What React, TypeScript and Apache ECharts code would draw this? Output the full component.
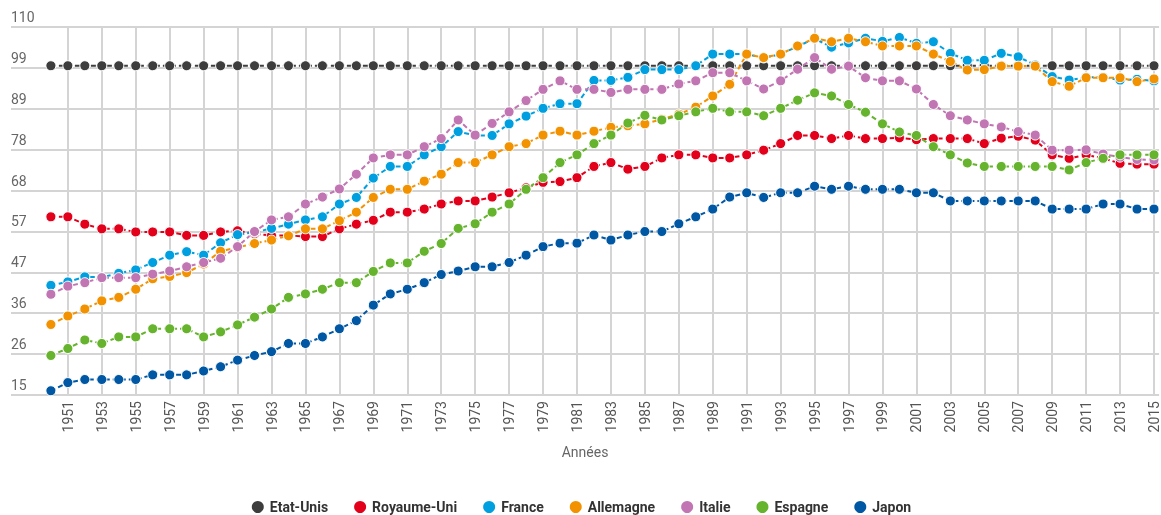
import { useEffect, useRef } from "react";
import * as echarts from "echarts";

const years = [
  1950, 1951, 1952, 1953, 1954, 1955, 1956, 1957, 1958, 1959,
  1960, 1961, 1962, 1963, 1964, 1965, 1966, 1967, 1968, 1969,
  1970, 1971, 1972, 1973, 1974, 1975, 1976, 1977, 1978, 1979,
  1980, 1981, 1982, 1983, 1984, 1985, 1986, 1987, 1988, 1989,
  1990, 1991, 1992, 1993, 1994, 1995, 1996, 1997, 1998, 1999,
  2000, 2001, 2002, 2003, 2004, 2005, 2006, 2007, 2008, 2009,
  2010, 2011, 2012, 2013, 2014, 2015,
];

const xTickYears = [
  1951, 1953, 1955, 1957, 1959, 1961, 1963, 1965, 1967, 1969,
  1971, 1973, 1975, 1977, 1979, 1981, 1983, 1985, 1987, 1989,
  1991, 1993, 1995, 1997, 1999, 2001, 2003, 2005, 2007, 2009,
  2011, 2013, 2015,
];

const yTickValues = [15, 25.556, 36.111, 46.667, 57.222, 67.778, 78.333, 88.889, 99.444, 110];
const yTickLabels = ["15", "26", "36", "47", "57", "68", "78", "89", "99", "110"];

const etatsUnis = [
  100, 100, 100, 100, 100, 100, 100, 100, 100, 100,
  100, 100, 100, 100, 100, 100, 100, 100, 100, 100,
  100, 100, 100, 100, 100, 100, 100, 100, 100, 100,
  100, 100, 100, 100, 100, 100, 100, 100, 100, 100,
  100, 100, 100, 100, 100, 100, 100, 100, 100, 100,
  100, 100, 100, 100, 100, 100, 100, 100, 100, 100,
  100, 100, 100, 100, 100, 100,
];

const royaumeUni = [
  61.0, 61.0, 59.1, 57.9, 57.9, 57.1, 57.1, 57.1, 56.2, 56.2,
  57.1, 57.4, 56.6, 56.2, 56.2, 55.9, 55.9, 57.9, 59.1, 60.1,
  62.2, 62.2, 63.0, 64.3, 65.1, 65.1, 66.1, 67.2, 68.5, 69.9,
  70.1, 71.1, 74.0, 75.0, 73.3, 74.0, 76.2, 77.0, 77.0, 76.2,
  76.2, 77.0, 78.2, 79.9, 82.0, 82.0, 81.2, 82.0, 81.2, 81.2,
  81.4, 80.9, 81.2, 81.2, 81.2, 79.9, 81.3, 81.8, 80.8, 77.0,
  76.1, 77.0, 76.1, 74.8, 74.6, 74.6,
];

const france = [
  43.3, 44.2, 45.5, 45.4, 46.4, 47.3, 49.2, 51.1, 52.0, 51.1,
  54.3, 56.4, 57.0, 58.0, 59.1, 60.2, 61.0, 64.3, 66.0, 71.0,
  74.0, 74.0, 77.0, 79.1, 83.0, 82.0, 82.0, 85.0, 87.0, 89.0,
  90.2, 90.2, 96.2, 96.2, 97.0, 99.0, 99.0, 99.0, 100.0, 103.0,
  103.0, 103.0, 102.0, 103.0, 105.0, 107.0, 104.8, 105.9, 107.1, 106.3,
  107.3, 105.8, 106.2, 103.2, 101.4, 101.4, 103.2, 102.3, 100.2, 97.2,
  96.3, 97.0, 97.0, 96.3, 96.5, 96.1,
];

const allemagne = [
  33.2, 35.4, 37.2, 39.3, 40.2, 42.3, 45.0, 45.6, 46.6, 48.8,
  52.1, 53.1, 54.1, 55.0, 56.1, 57.9, 57.9, 60.0, 62.2, 66.0,
  68.1, 68.1, 70.2, 72.0, 75.0, 75.0, 77.0, 79.1, 79.9, 82.1,
  83.1, 82.1, 83.1, 84.1, 84.5, 85.0, 86.2, 87.5, 89.3, 92.2,
  95.2, 103.0, 102.1, 103.0, 105.1, 107.1, 106.2, 107.1, 106.2, 105.1,
  105.1, 105.1, 103.0, 101.1, 98.9, 99.0, 99.9, 99.9, 99.9, 95.9,
  94.7, 96.9, 96.9, 96.9, 95.9, 96.6,
];

const italie = [
  41.0, 43.1, 44.0, 45.3, 45.3, 45.3, 46.2, 47.0, 48.1, 49.2,
  50.3, 53.3, 57.2, 60.2, 61.0, 64.3, 66.1, 68.2, 72.0, 76.2,
  77.0, 77.0, 79.1, 81.2, 86.0, 82.1, 85.1, 88.1, 91.0, 93.9,
  96.1, 93.9, 93.9, 93.1, 93.9, 93.9, 93.9, 95.3, 96.1, 98.2,
  98.2, 96.1, 94.0, 96.1, 99.1, 102.1, 99.1, 99.9, 96.9, 96.1,
  96.1, 94.0, 90.0, 87.1, 86.0, 85.0, 84.2, 83.0, 82.1, 78.2,
  78.2, 78.3, 77.2, 76.4, 75.8, 75.7,
];

const espagne = [
  25.2, 27.0, 29.2, 28.3, 30.0, 30.0, 32.1, 32.1, 32.1, 30.0,
  31.3, 33.1, 35.1, 37.2, 40.2, 41.1, 42.3, 44.0, 44.0, 46.9,
  49.1, 49.1, 52.1, 54.1, 58.0, 59.2, 62.2, 64.3, 68.1, 71.1,
  75.0, 77.0, 79.9, 82.1, 85.2, 87.2, 86.0, 87.1, 88.1, 89.0,
  88.1, 88.1, 87.1, 89.0, 91.1, 93.0, 92.2, 90.0, 88.0, 85.0,
  82.9, 82.0, 79.1, 77.0, 74.9, 74.0, 74.0, 74.0, 74.0, 74.0,
  73.1, 75.0, 76.1, 77.0, 77.0, 77.0,
];

const japon = [
  16.1, 18.2, 19.0, 19.0, 19.0, 19.0, 20.2, 20.2, 20.2, 21.2,
  22.3, 24.0, 25.2, 26.2, 28.3, 28.3, 30.0, 32.1, 34.2, 38.2,
  41.1, 42.3, 44.0, 46.1, 47.0, 48.1, 48.1, 49.2, 51.1, 53.3,
  54.2, 54.2, 56.3, 55.0, 56.3, 57.2, 57.2, 59.2, 61.0, 63.0,
  66.1, 67.2, 66.0, 67.2, 67.2, 68.9, 68.1, 68.9, 68.1, 68.1,
  68.1, 67.2, 67.2, 65.1, 65.1, 65.1, 65.1, 65.1, 65.1, 63.0,
  63.0, 63.0, 64.3, 64.3, 63.0, 63.0,
];

const seriesNames = ["Etat-Unis", "Royaume-Uni", "France", "Allemagne", "Italie", "Espagne", "Japon"];
const seriesColors = ["#3d3d3d", "#e3001b", "#00a0e0", "#f39200", "#c175b2", "#66b32e", "#0057a4"];
const seriesValues = [etatsUnis, royaumeUni, france, allemagne, italie, espagne, japon];

export default function App() {
  const ref = useRef<HTMLDivElement>(null);

  useEffect(() => {
    if (!ref.current) return;
    const chart = echarts.init(ref.current, null, { renderer: "svg" });
    const gridLine = { show: true, lineStyle: { color: "#d4d4d4", width: 2 } };

    chart.setOption({
      animation: false,
      textStyle: { fontFamily: "Roboto" },
      grid: { left: 11, right: 0, top: 27, bottom: 120, containLabel: false },
      xAxis: {
        type: "value",
        min: 1947.65,
        max: 2015.3,
        axisLine: { show: false },
        axisTick: { show: false, customValues: xTickYears },
        splitLine: gridLine,
        axisLabel: {
          customValues: xTickYears,
          rotate: 90,
          margin: 6,
          fontSize: 14,
          color: "#555",
          fontFamily: "Roboto",
          formatter: (v: number) => String(Math.round(v)),
        },
        name: "Années",
        nameLocation: "middle",
        nameGap: 50,
        nameTextStyle: { fontSize: 14, color: "#666", fontFamily: "Roboto" },
      },
      yAxis: {
        type: "value",
        min: 15,
        max: 110,
        axisLine: { show: false },
        axisTick: { show: false, customValues: yTickValues },
        splitLine: gridLine,
        axisLabel: {
          customValues: yTickValues,
          align: "left",
          verticalAlign: "bottom",
          margin: 0,
          padding: [0, 0, 3, 0],
          fontSize: 14,
          color: "#666",
          fontFamily: "Roboto",
          formatter: (v: number) => {
            const i = yTickValues.findIndex((t) => Math.abs(t - v) < 0.01);
            return i >= 0 ? yTickLabels[i] : "";
          },
        },
      },
      legend: {
        top: 499,
        left: "center",
        padding: 0,
        icon: "circle",
        itemWidth: 14,
        itemHeight: 14,
        itemGap: 24,
        textStyle: { fontSize: 14, fontWeight: "bold", color: "#333", fontFamily: "Roboto" },
        data: seriesNames,
      },
      series: seriesNames.map((name, s) => ({
        name,
        type: "line",
        data: years.map((y, i) => [y, seriesValues[s][i]]),
        symbol: "circle",
        symbolSize: 10,
        showSymbol: true,
        itemStyle: { color: seriesColors[s], borderColor: "#fff", borderWidth: 1 },
        lineStyle: { color: seriesColors[s], width: 2, type: [5, 3] },
        emphasis: { disabled: true },
      })),
    });

    return () => chart.dispose();
  }, []);

  return (
    <div
      ref={ref}
      style={{ position: "fixed", left: 0, top: 0, width: 1161, height: 515 }}
    />
  );
}
